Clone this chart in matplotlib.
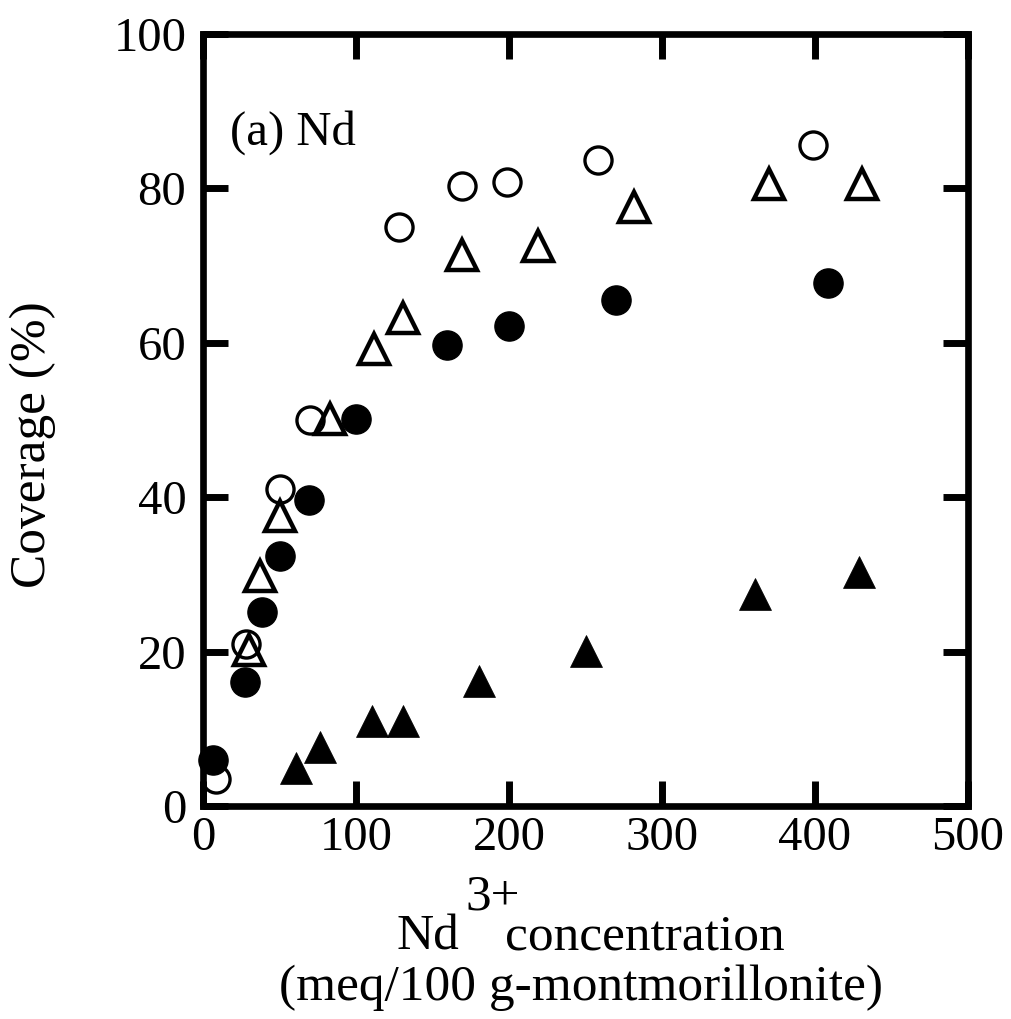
import matplotlib
matplotlib.use("Agg")
import matplotlib.pyplot as plt

# ---- data ----
open_circle_x = [8.5, 28, 50, 70, 128, 169, 199, 258, 399]
open_circle_y = [3.5, 21, 41, 50, 75, 80.3, 80.8, 83.7, 85.6]

open_tri_x = [30, 37, 50, 83, 112, 131, 169, 219, 282, 370, 431]
open_tri_y = [20.2, 29.8, 37.6, 50.1, 59.2, 63.2, 71.4, 72.5, 77.6, 80.6, 80.6]

filled_circle_x = [6.5, 27.5, 38.6, 50, 69.5, 100, 159.5, 200, 270, 408.5]
filled_circle_y = [6.0, 16.0, 25.1, 32.4, 39.6, 50.1, 59.7, 62.2, 65.5, 67.7]

filled_tri_x = [61, 76.5, 110.5, 131, 180.5, 250, 361, 429]
filled_tri_y = [4.9, 7.7, 11, 11, 16.2, 20.1, 27.4, 30.3]

x_ticks = [0, 100, 200, 300, 400, 500]
y_ticks = [0, 20, 40, 60, 80, 100]

plt.rcParams['font.family'] = ['Liberation Serif', 'DejaVu Serif']

W, H = 1011, 1019
fig = plt.figure(figsize=(W / 100, H / 100), dpi=100)
fig.patch.set_facecolor('white')

x0, x1 = 203, 968
y_bot, y_top = 806, 34
ax = fig.add_axes([x0 / W, 1 - y_bot / H, (x1 - x0) / W, (y_bot - y_top) / H])

ax.plot(open_tri_x, open_tri_y, linestyle='none', marker='^', ms=21,
        mfc='none', mec='black', mew=3.2, clip_on=False, zorder=3)
ax.plot(open_circle_x, open_circle_y, linestyle='none', marker='o', ms=19.5,
        mfc='none', mec='black', mew=2.4, clip_on=False, zorder=4)
ax.plot(filled_circle_x, filled_circle_y, linestyle='none', marker='o', ms=21,
        mfc='black', mec='black', mew=1, clip_on=False, zorder=5)
ax.plot(filled_tri_x, filled_tri_y, linestyle='none', marker='^', ms=23,
        mfc='black', mec='black', mew=0.5, clip_on=False, zorder=5)

ax.set_xlim(0, 500)
ax.set_ylim(0, 100)
ax.set_xticks(x_ticks)
ax.set_yticks(y_ticks)
ax.set_xticklabels([str(v) for v in x_ticks])
ax.set_yticklabels([str(v) for v in y_ticks])

for s in ax.spines.values():
    s.set_linewidth(4.8)
    s.set_color('black')

ax.tick_params(axis='both', which='major', direction='in', length=18, width=5,
               top=True, right=True, labelsize=35, colors='black')
ax.tick_params(axis='x', pad=7)
ax.tick_params(axis='y', pad=12)

ax.text((230 - x0) / (x1 - x0), (y_bot - 145) / (y_bot - y_top), '(a) Nd',
        transform=ax.transAxes, fontsize=35, ha='left', va='baseline')

# y label
fig.text(33 / W, 1 - 445 / H, 'Coverage (%)', rotation=90, fontsize=37,
         ha='center', va='center')

# x label (two lines, with superscript)
fig.text(397 / W, 1 - 950 / H, 'Nd', fontsize=37, ha='left', va='baseline')
fig.text(465 / W, 1 - 910 / H, '3+', fontsize=37, ha='left', va='baseline')
fig.text(505 / W, 1 - 950 / H, 'concentration', fontsize=37, ha='left', va='baseline')
fig.text(581 / W, 1 - 1000 / H, '(meq/100 g-montmorillonite)', fontsize=37,
         ha='center', va='baseline')

fig.savefig('out.png', dpi=100, facecolor='white')
